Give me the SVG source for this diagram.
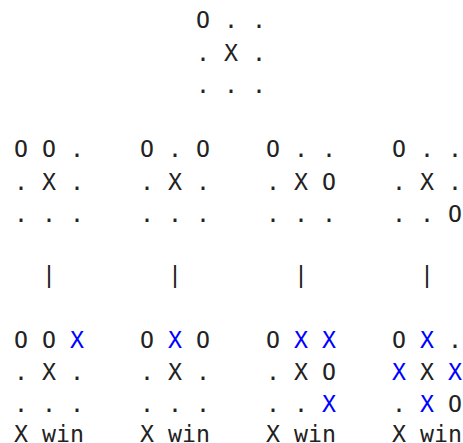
<svg xmlns="http://www.w3.org/2000/svg" width="463" height="443" viewBox="0 0 463 443">
<style>
text{font-family:"DejaVu Sans Mono","Liberation Mono",monospace;font-size:23.25px;fill:#222;white-space:pre}
.b{fill:#0000ff}
</style>
<rect width="463" height="443" fill="#fff"/>
<g id="root" xml:space="preserve">
<text x="196" y="28">O . .</text>
<text x="196" y="61">. X .</text>
<text x="196" y="93">. . .</text>
</g>
<g id="b1" xml:space="preserve">
<text x="14" y="157">O O .</text>
<text x="14" y="190">. X .</text>
<text x="14" y="222">. . .</text>
</g>
<g id="b2" xml:space="preserve">
<text x="140" y="157">O . O</text>
<text x="140" y="190">. X .</text>
<text x="140" y="222">. . .</text>
</g>
<g id="b3" xml:space="preserve">
<text x="266" y="157">O . .</text>
<text x="266" y="190">. X O</text>
<text x="266" y="222">. . .</text>
</g>
<g id="b4" xml:space="preserve">
<text x="392" y="157">O . .</text>
<text x="392" y="190">. X .</text>
<text x="392" y="222">. . O</text>
</g>
<g id="connectors">
<text x="42" y="283">|</text>
<text x="168" y="283">|</text>
<text x="294" y="283">|</text>
<text x="420" y="283">|</text>
</g>
<g id="w1" xml:space="preserve">
<text x="14" y="348">O O <tspan class="b">X</tspan></text>
<text x="14" y="380">. X .</text>
<text x="14" y="412">. . .</text>
<text x="14" y="442">X win</text>
</g>
<g id="w2" xml:space="preserve">
<text x="140" y="348">O <tspan class="b">X</tspan> O</text>
<text x="140" y="380">. X .</text>
<text x="140" y="412">. . .</text>
<text x="140" y="442">X win</text>
</g>
<g id="w3" xml:space="preserve">
<text x="266" y="348">O <tspan class="b">X</tspan> <tspan class="b">X</tspan></text>
<text x="266" y="380">. X O</text>
<text x="266" y="412">. . <tspan class="b">X</tspan></text>
<text x="266" y="442">X win</text>
</g>
<g id="w4" xml:space="preserve">
<text x="392" y="348">O <tspan class="b">X</tspan> .</text>
<text x="392" y="380"><tspan class="b">X</tspan> X <tspan class="b">X</tspan></text>
<text x="392" y="412">. <tspan class="b">X</tspan> O</text>
<text x="392" y="442">X win</text>
</g>
</svg>
